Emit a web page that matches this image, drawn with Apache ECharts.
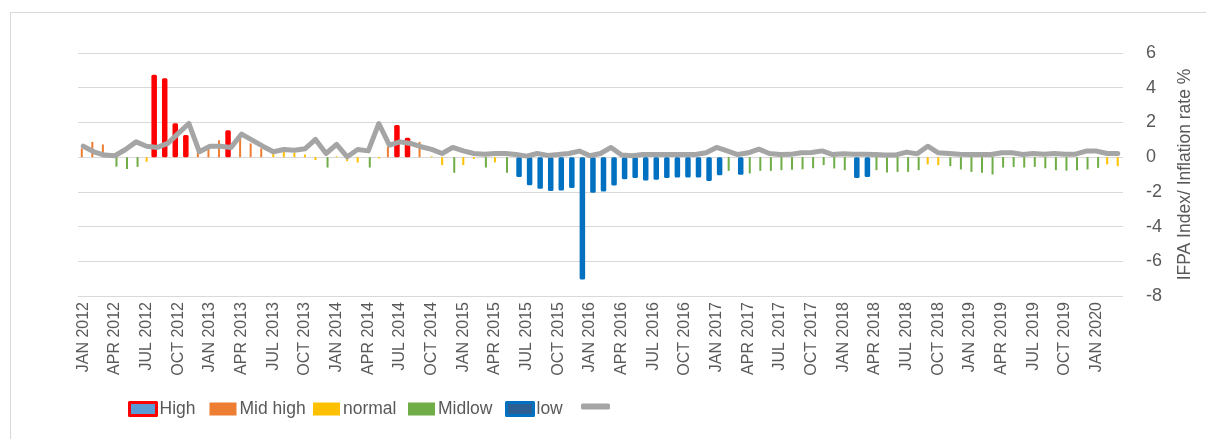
<!DOCTYPE html>
<html>
<head>
<meta charset="utf-8">
<title>IFPA Index and inflation rate, 2012-2020</title>
<script src="https://cdn.jsdelivr.net/npm/echarts@6/dist/echarts.min.js"></script>
<style>
  html, body { margin: 0; padding: 0; background: #ffffff; overflow: hidden; }
  #frame { position: absolute; left: 10px; top: 12px; width: 1400px; height: 600px;
           border: 1px solid #D9D9D9; box-sizing: border-box; }
  #chart { position: absolute; left: 0; top: 0; width: 1206px; height: 439px; }
</style>
</head>
<body>
<div id="frame"></div>
<div id="chart"></div>
<script>
// Monthly categories, JAN 2012 .. MAR 2020
const MONTHS = ['JAN', 'FEB', 'MAR', 'APR', 'MAY', 'JUN', 'JUL', 'AUG', 'SEP', 'OCT', 'NOV', 'DEC'];
const FIRST_YEAR = 2012;
const MONTH_COUNT = 99;
const categories = [];
for (let i = 0; i < MONTH_COUNT; i++) {
  categories.push(MONTHS[i % 12] + ' ' + (FIRST_YEAR + Math.floor(i / 12)));
}

// IFPA index per month (one row per year)
const ifpaIndex = [
  0.50, 0.88, 0.73, -0.55, -0.69, -0.56, -0.27, 4.75, 4.55, 1.95, 1.28, 0.35,
  0.56, 0.98, 1.55, 1.10, 0.79, 0.50, 0.21, 0.31, 0.25, 0.15, -0.17, -0.60,
  0.05, -0.23, -0.31, -0.60, -0.07, 0.60, 1.85, 1.12, 0.88, 0.05, -0.46, -0.90,
  -0.46, -0.10, -0.60, -0.30, -0.90, -1.15, -1.62, -1.82, -1.95, -1.92, -1.78, -7.05,
  -2.05, -1.98, -1.63, -1.28, -1.20, -1.35, -1.30, -1.20, -1.17, -1.17, -1.17, -1.38,
  -1.05, -0.79, -1.02, -0.94, -0.79, -0.79, -0.75, -0.73, -0.70, -0.64, -0.46, -0.65,
  -0.75, -1.20, -1.15, -0.75, -0.88, -0.85, -0.85, -0.75, -0.42, -0.46, -0.52, -0.71,
  -0.85, -0.90, -1.00, -0.60, -0.56, -0.60, -0.56, -0.64, -0.75, -0.78, -0.75, -0.71,
  -0.62, -0.42, -0.52
];

// Class of each month: H = High, MH = Mid high, N = normal, ML = Midlow, L = low
const ifpaClass = [
  'MH', 'MH', 'MH', 'ML', 'ML', 'ML', 'N', 'H', 'H', 'H', 'H', 'MH',
  'MH', 'MH', 'H', 'MH', 'MH', 'MH', 'N', 'N', 'N', 'N', 'N', 'ML',
  'N', 'N', 'N', 'ML', 'N', 'MH', 'H', 'H', 'MH', 'N', 'N', 'ML',
  'N', 'N', 'ML', 'N', 'ML', 'L', 'L', 'L', 'L', 'L', 'L', 'L',
  'L', 'L', 'L', 'L', 'L', 'L', 'L', 'L', 'L', 'L', 'L', 'L',
  'L', 'ML', 'L', 'ML', 'ML', 'ML', 'ML', 'ML', 'ML', 'ML', 'ML', 'ML',
  'ML', 'L', 'L', 'ML', 'ML', 'ML', 'ML', 'ML', 'N', 'N', 'ML', 'ML',
  'ML', 'ML', 'ML', 'ML', 'ML', 'ML', 'ML', 'ML', 'ML', 'ML', 'ML', 'ML',
  'ML', 'N', 'N'
];

// Monthly inflation rate, %
const inflationRate = [
  0.63, 0.31, 0.12, 0.08, 0.44, 0.88, 0.63, 0.56, 0.79, 1.37, 1.94, 0.31,
  0.63, 0.63, 0.56, 1.33, 0.98, 0.63, 0.31, 0.44, 0.40, 0.48, 1.02, 0.21,
  0.73, 0.02, 0.44, 0.36, 1.94, 0.69, 0.88, 0.79, 0.60, 0.45, 0.21, 0.56,
  0.36, 0.21, 0.17, 0.21, 0.21, 0.15, 0.06, 0.21, 0.10, 0.15, 0.21, 0.35,
  0.08, 0.21, 0.56, 0.12, 0.08, 0.15, 0.15, 0.15, 0.15, 0.15, 0.15, 0.25,
  0.56, 0.36, 0.15, 0.25, 0.46, 0.21, 0.15, 0.16, 0.25, 0.27, 0.36, 0.15,
  0.19, 0.17, 0.17, 0.15, 0.13, 0.13, 0.29, 0.19, 0.63, 0.25, 0.21, 0.17,
  0.15, 0.15, 0.15, 0.25, 0.25, 0.15, 0.21, 0.17, 0.21, 0.17, 0.17, 0.35,
  0.35, 0.21, 0.21
];

// Y axis range and step
const Y_MIN = -8, Y_MAX = 6, Y_STEP = 2;

const TEXT_COLOR = '#595959';
const LINE_COLOR = '#A5A5A5';
const FONT = "'Liberation Sans', Arial, sans-serif";

function valuesOfClass(code) {
  return ifpaIndex.map((v, i) => (ifpaClass[i] === code ? v : '-'));
}

const chart = echarts.init(document.getElementById('chart'), null, { renderer: 'canvas' });

// Legend entries, one legend component each so every entry keeps its own place
const legendBase = {
  top: 399,
  padding: 0,
  itemWidth: 27,
  itemHeight: 13,
  itemGap: 0,
  selectedMode: false,
  icon: 'rect',
  textStyle: { color: TEXT_COLOR, fontSize: 17.5, lineHeight: 20, fontFamily: FONT, padding: [0, 0, 0, -2] }
};
const legends = [
  { data: ['High'], left: 128, itemStyle: { borderWidth: 3 } },
  { data: ['Mid high'], left: 209.5 },
  { data: ['normal'], left: 313 },
  { data: ['Midlow'], left: 408 },
  { data: ['low'], left: 505, itemStyle: { borderWidth: 3 } },
  { data: ['Inflation rate'], left: 581, top: 403.5, itemWidth: 29, itemHeight: 6,
    icon: 'roundRect', formatter: () => '',
    itemStyle: { color: LINE_COLOR, borderWidth: 0 } }
].map(l => Object.assign({}, legendBase, l));

// Wide bordered bars (High, low) sit on their own hidden category axis so they
// can be laid out independently from the thin bars.
const option = {
  animation: false,
  textStyle: { fontFamily: FONT },
  grid: { left: 78, right: 83, top: 53, bottom: 143, containLabel: false },
  xAxis: [
    {
      type: 'category',
      data: categories,
      axisLine: { show: false, onZero: false },
      axisTick: { show: false },
      axisLabel: {
        interval: 2,
        rotate: 90,
        margin: 6,
        color: TEXT_COLOR,
        fontSize: 16,
        fontFamily: FONT
      },
      splitLine: { show: false }
    },
    {
      type: 'category',
      data: categories,
      show: false,
      axisLine: { onZero: false }
    }
  ],
  yAxis: {
    type: 'value',
    position: 'right',
    min: Y_MIN,
    max: Y_MAX,
    interval: Y_STEP,
    axisLine: { show: false },
    axisTick: { show: false },
    axisLabel: { color: TEXT_COLOR, fontSize: 18, margin: 23, fontFamily: FONT },
    splitLine: { lineStyle: { color: '#D9D9D9', width: 1.2 } },
    name: 'IFPA Index/ Inflation rate %',
    nameLocation: 'middle',
    nameRotate: 90,
    nameGap: 53,
    nameTextStyle: { color: TEXT_COLOR, fontSize: 17.5, fontFamily: FONT }
  },
  legend: legends,
  series: [
    {
      name: 'High', type: 'bar', xAxisIndex: 1,
      barWidth: 5.5, barGap: '9%',
      itemStyle: { color: '#5B9BD5', borderColor: '#FF0000', borderWidth: 3, borderJoin: 'round' },
      data: valuesOfClass('H')
    },
    {
      name: 'Mid high', type: 'bar', xAxisIndex: 0,
      barWidth: 2, barGap: '-25%',
      itemStyle: { color: '#ED7D31' },
      data: valuesOfClass('MH')
    },
    {
      name: 'normal', type: 'bar', xAxisIndex: 0,
      barWidth: 2, barGap: '-25%',
      itemStyle: { color: '#FFC000' },
      data: valuesOfClass('N')
    },
    {
      name: 'Midlow', type: 'bar', xAxisIndex: 0,
      barWidth: 2, barGap: '-25%',
      itemStyle: { color: '#70AD47' },
      data: valuesOfClass('ML')
    },
    {
      name: 'low', type: 'bar', xAxisIndex: 1,
      barWidth: 5.5, barGap: '9%',
      itemStyle: { color: '#2B5F93', borderColor: '#0070C0', borderWidth: 3, borderJoin: 'round' },
      data: valuesOfClass('L')
    },
    {
      name: 'Inflation rate', type: 'line', xAxisIndex: 0,
      symbol: 'none', showSymbol: false, smooth: false, z: 5,
      itemStyle: { color: LINE_COLOR },
      lineStyle: { color: LINE_COLOR, width: 5, cap: 'round', join: 'round' },
      data: inflationRate
    }
  ]
};

chart.setOption(option);
</script>
</body>
</html>
